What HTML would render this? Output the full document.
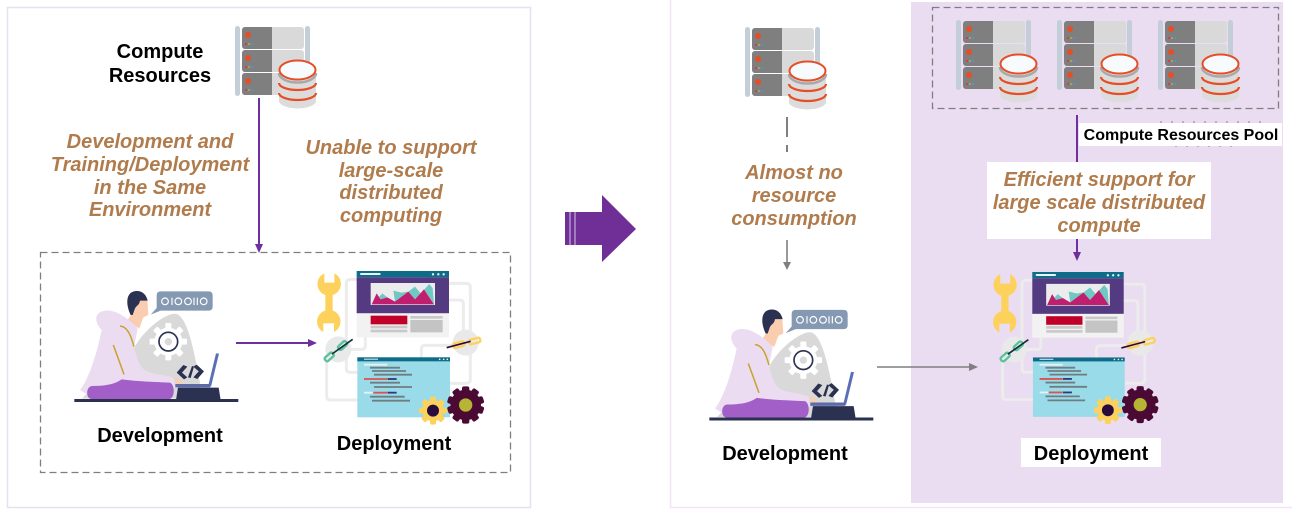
<!DOCTYPE html>
<html><head><meta charset="utf-8"><style>
html,body{margin:0;padding:0;background:#fff;width:1292px;height:517px;overflow:hidden}
svg{display:block}
text{font-family:"Liberation Sans",sans-serif;font-weight:bold;text-anchor:middle}
.o{font-style:italic;font-size:20px;fill:#b07c4d}
.b{font-size:20px;fill:#000}
</style></head><body>
<svg width="1292" height="517" viewBox="0 0 1292 517" xmlns="http://www.w3.org/2000/svg">
<defs>
<g id="srv">
  <rect x="0" y="0" width="5" height="70" rx="2.5" fill="#c3ced8"/>
  <rect x="70" y="0" width="5" height="70" rx="2.5" fill="#c3ced8"/>
  <g id="u1"><rect x="7" y="1" width="62" height="22" rx="3" fill="#d9d9d9"/><path d="M10 1H37V23H10a3 3 0 0 1-3-3V4a3 3 0 0 1 3-3z" fill="#7f7f7f"/><circle cx="13" cy="9" r="3" fill="#e54e26"/><rect x="10" y="17" width="2" height="2" fill="#e0364f"/><rect x="13" y="17" width="2" height="2" fill="#8fb04a"/><rect x="16" y="17" width="2" height="2" fill="#5b8fc9"/></g>
  <use href="#u1" y="23"/><use href="#u1" y="46"/>
  <path d="M44 44v31a18.500 7.500 0 0 0 37 0V44z" fill="#dcdcdc"/>
  <path d="M44 57a18.500 7 0 0 0 37 0M44 67a18.500 7 0 0 0 37 0" fill="none" stroke="#e54e26" stroke-width="2.200"/>
  <path d="M44 47a18.500 9.500 0 0 0 37 0" fill="none" stroke="#a9a9a9" stroke-width="2.500"/>
  <ellipse cx="62.500" cy="44" rx="18" ry="9.500" fill="#f7fbfe" stroke="#e54e26" stroke-width="2"/>
</g>
<g id="person">
  <path d="M66 416L100 380L222 265C250 210 320 155 350 162C385 175 405 280 428 416Z" fill="#d9d9d9"/>
  <g transform="translate(325,245)">
    <circle r="42" fill="#fff"/>
    <g fill="#fff"><rect x="-9" y="-56" width="18" height="112" rx="3"/><rect x="-9" y="-56" width="18" height="112" rx="3" transform="rotate(45)"/><rect x="-9" y="-56" width="18" height="112" rx="3" transform="rotate(90)"/><rect x="-9" y="-56" width="18" height="112" rx="3" transform="rotate(135)"/></g>
    <circle r="28" fill="#fff" stroke="#2b3150" stroke-width="5"/><circle r="11" fill="#d9d9d9"/>
  </g>
  <path d="M350 338L370 315L382 320L366 338L382 352L372 358ZM432 334L412 357L400 352L416 334L400 320L410 314ZM384 352L396 318L402 320L392 354Z" fill="#2b3150"/>
  <path d="M240 118L262 118L265 165L250 172L238 205L200 185L225 145Z" fill="#fbcdb0"/>
  <path d="M212 165C195 130 198 92 232 93C250 93 260 108 263 122L240 122C238 135 232 135 225 145L218 165Z" fill="#2b3150"/>
  <path d="M60 390C90 350 110 280 125 210C105 190 100 160 130 153C165 145 205 175 233 205L222 262C232 300 240 325 262 335C290 345 325 345 342 355L345 385L100 415Z" fill="#ebdcf2"/>
  <path d="M180 198C205 200 215 235 222 260M160 255L192 343" fill="none" stroke="#c8a22e" stroke-width="4.500"/>
  <path d="M95 378C140 378 165 372 185 358C240 365 290 366 330 368C345 375 345 410 330 417H95C78 417 76 382 95 378Z" fill="#a25fc8"/>
  <path d="M342 352L372 366L350 374Z" fill="#fbcdb0"/>
  <rect x="346" y="372" width="105" height="10" fill="#5c6aa8"/>
  <path d="M446 372L468 280L477 281L453 380Z" fill="#5a6fb8"/>
  <path d="M354 383H476L482 420H348Z" fill="#2b3150"/>
  <rect x="43" y="417" width="492" height="9" fill="#2b3150"/>
  <path d="M272 164L290 144V106Q290 94 302 94H446Q458 94 458 106V140Q458 152 446 152H302Z" fill="#8599b3"/>
  <g fill="none" stroke="#fff" stroke-width="3.500">
    <ellipse cx="315" cy="124" rx="10" ry="10"/><line x1="336" y1="113" x2="336" y2="135"/><ellipse cx="355" cy="124" rx="10" ry="10"/><ellipse cx="384" cy="124" rx="10" ry="10"/><line x1="402" y1="113" x2="402" y2="135"/><line x1="412" y1="113" x2="412" y2="135"/><ellipse cx="431" cy="124" rx="10" ry="10"/>
  </g>
</g>
<g id="gearY"><circle r="32" fill="#fdd25c"/><g fill="#fdd25c"><rect x="-9" y="-42" width="18" height="84" rx="5"/><rect x="-9" y="-42" width="18" height="84" rx="5" transform="rotate(45)"/><rect x="-9" y="-42" width="18" height="84" rx="5" transform="rotate(90)"/><rect x="-9" y="-42" width="18" height="84" rx="5" transform="rotate(135)"/></g><circle r="18" fill="#2a0c3c"/></g>
<g id="gearD"><circle r="46" fill="#4a0a33"/><g fill="#4a0a33"><rect x="-11" y="-56" width="22" height="112" rx="6"/><rect x="-11" y="-56" width="22" height="112" rx="6" transform="rotate(36)"/><rect x="-11" y="-56" width="22" height="112" rx="6" transform="rotate(72)"/><rect x="-11" y="-56" width="22" height="112" rx="6" transform="rotate(108)"/><rect x="-11" y="-56" width="22" height="112" rx="6" transform="rotate(144)"/></g><circle r="20" fill="#b7b534"/></g>
<g id="deploy">
  <g fill="none" stroke="#ececec" stroke-width="9" stroke-linejoin="round">
    <path d="M175 58H152Q139 58 139 71V325Q139 337 152 337H175"/>
    <path d="M196 230V256Q196 268 184 268H139"/>
    <path d="M445 70H498Q511 70 511 83V357Q511 370 498 370H450"/>
    <path d="M445 120H478Q490 120 490 132V245"/>
    <path d="M460 256H376Q364 256 364 268V295"/>
    <path d="M95 290H92Q80 290 80 302V408Q80 420 92 420H175"/>
  </g>
  <circle cx="115" cy="268" r="39" fill="#e9e9e9"/>
  <circle cx="497" cy="248" r="39" fill="#e9e9e9"/>
  <path d="M73 40A35 35 0 0 0 76 105V151.500A35 35 0 0 0 70 216V190H102V216A35 35 0 0 0 98 151.500V105A35 35 0 0 0 103 40V68H73Z" fill="#fdd25c"/>
  <rect x="170" y="33" width="277" height="19" fill="#0e6c88"/>
  <rect x="180" y="39" width="62" height="6" rx="3" fill="#e8f3f5"/>
  <circle cx="399" cy="43" r="3.500" fill="#e8f3f5"/><circle cx="415" cy="43" r="3.500" fill="#e8f3f5"/><circle cx="431" cy="43" r="3.500" fill="#e8f3f5"/>
  <rect x="170" y="52" width="277" height="108" fill="#533a81"/>
  <rect x="170" y="160" width="277" height="72" fill="#f2f2f2"/>
  <rect x="212" y="69" width="193" height="66" fill="#ececec"/>
  <path d="M238 110L247 100L262 112L285 125L280 92L305 98L325 95L345 80L362 100L388 72L398 85L402 132L372 88L345 118L325 95L285 125L262 112L242 118Z" fill="#6fc8c3"/>
  <path d="M215 133L230 100L242 118L262 112L285 125L325 95L345 118L372 88L402 133Z" fill="#c01e6e"/>
  <rect x="212" y="167" width="110" height="26" fill="#c00028"/>
  <rect x="212" y="197" width="110" height="8" fill="#c9c9c9"/><rect x="212" y="209" width="110" height="8" fill="#c9c9c9"/>
  <rect x="331" y="168" width="97" height="8" fill="#c9c9c9"/><rect x="331" y="180" width="97" height="37" fill="#c4c4c4"/>
  <g fill="none" stroke="#5dc09a" stroke-width="7"><rect x="72" y="284" width="30" height="14" rx="5" transform="rotate(-42 87 290)"/><rect x="112" y="250" width="30" height="14" rx="5" transform="rotate(-42 127 256)"/></g>
  <line x1="96" y1="282" x2="158" y2="238" stroke="#10303e" stroke-width="5"/>
  <g fill="none" stroke="#fdd25c" stroke-width="7"><rect x="459" y="247" width="34" height="14" rx="5" transform="rotate(-15 476 253)"/><rect x="507" y="236" width="34" height="14" rx="5" transform="rotate(-15 524 243)"/></g>
  <line x1="440" y1="263" x2="512" y2="244" stroke="#2a0c3c" stroke-width="5"/>
  <rect x="172" y="292" width="278" height="180" fill="#9adbea"/>
  <rect x="172" y="292" width="278" height="12" fill="#0e6c88"/>
  <rect x="192" y="296" width="42" height="3" fill="#e8f3f5"/>
  <circle cx="419" cy="298" r="2.500" fill="#e8f3f5"/><circle cx="431" cy="298" r="2.500" fill="#e8f3f5"/><circle cx="442" cy="298" r="2.500" fill="#e8f3f5"/>
  <g stroke-width="5.500" fill="none">
    <path d="M192 314H262" stroke="#e5f2f5"/>
    <path d="M210 323H300M216 333H318M222 344H336M210 368H300M222 381H336M210 410H314M216 422H330" stroke="#6f7d80"/>
    <path d="M192 357H262" stroke="#d9534f"/><path d="M263 357H290" stroke="#2b3a78"/>
    <path d="M192 398H218" stroke="#e5f2f5"/><path d="M220 398H262" stroke="#d9534f"/><path d="M263 398H290" stroke="#2b3a78"/>
  </g>
  <use href="#gearY" x="399" y="452"/>
  <use href="#gearD" x="497" y="435"/>
</g>
</defs>

<!-- panels -->
<rect x="7.500" y="7.500" width="523" height="500" fill="#fff" stroke="#e8dff0" stroke-width="1.500"/>
<path d="M670.500 0V507.500H1292" fill="none" stroke="#f1e4f7" stroke-width="1.500"/>
<rect x="911" y="2" width="372" height="501" fill="#eadcf1"/>

<!-- left -->
<use href="#srv" x="235" y="26"/>
<text class="b" x="160" y="58">Compute</text>
<text class="b" x="160" y="82">Resources</text>
<line x1="259" y1="98" x2="259" y2="245" stroke="#6f2f9f" stroke-width="2"/>
<path d="M255 244H263L259 253Z" fill="#6f2f9f"/>
<text class="o" x="150" y="148">Development and</text>
<text class="o" x="150" y="171">Training/Deployment</text>
<text class="o" x="150" y="194">in the Same</text>
<text class="o" x="150" y="216">Environment</text>
<text class="o" x="391" y="154">Unable to support</text>
<text class="o" x="391" y="177">large-scale</text>
<text class="o" x="391" y="199">distributed</text>
<text class="o" x="391" y="222">computing</text>
<rect x="40.500" y="252.500" width="470" height="220" fill="none" stroke="#7f7f7f" stroke-width="1.300" stroke-dasharray="7 4"/>
<use href="#person" transform="translate(60,260) scale(.33333)"/>
<line x1="236" y1="343" x2="310" y2="343" stroke="#6f2f9f" stroke-width="2"/>
<path d="M308 339L317 343L308 347Z" fill="#6f2f9f"/>
<use href="#deploy" transform="translate(300,260) scale(.33333)"/>
<text class="b" x="160" y="442">Development</text>
<text class="b" x="394" y="450">Deployment</text>

<!-- big arrow -->
<path d="M565 212H602V195L636 229L602 262V245H565Z" fill="#6f2f96"/>
<path d="M570 212V245M575 212V245" stroke="#d9c5e6" stroke-width="1"/>

<!-- middle -->
<use href="#srv" x="745" y="27"/>
<path d="M787 117V152" stroke="#7f7f7f" stroke-width="2" stroke-dasharray="20 8"/>
<text class="o" x="794" y="179">Almost no</text>
<text class="o" x="794" y="202">resource</text>
<text class="o" x="794" y="225">consumption</text>
<line x1="787" y1="240" x2="787" y2="263" stroke="#7f7f7f" stroke-width="1.600"/>
<path d="M783 262H791L787 270Z" fill="#7f7f7f"/>
<use href="#person" transform="translate(695,278.500) scale(.33333)"/>
<text class="b" x="785" y="460">Development</text>
<line x1="877" y1="367" x2="971" y2="367" stroke="#7f7f7f" stroke-width="1.600"/>
<path d="M969 363L978 367L969 371Z" fill="#7f7f7f"/>

<!-- right -->
<rect x="932.500" y="7.500" width="346" height="101" fill="none" stroke="#7f7f7f" stroke-width="1.300" stroke-dasharray="7 4"/>
<use href="#srv" x="956" y="20"/><use href="#srv" x="1057" y="20"/><use href="#srv" x="1158" y="20"/>
<line x1="1077" y1="115" x2="1077" y2="255" stroke="#6f2f9f" stroke-width="2"/>
<path d="M1073 252H1081L1077 261Z" fill="#6f2f96"/>
<path d="M1160 122H1270M1175 146H1240" stroke="#8a7f90" stroke-width="1" stroke-dasharray="2 9"/>
<rect x="1079" y="123" width="203" height="23" fill="#fff"/>
<text x="1181" y="140" style="font-size:16px" fill="#000">Compute Resources Pool</text>
<rect x="987" y="162" width="224" height="77" fill="#fff"/>
<text class="o" x="1099" y="186">Efficient support for</text>
<text class="o" x="1099" y="209">large scale distributed</text>
<text class="o" x="1099" y="232">compute</text>
<use href="#deploy" transform="translate(976.200,261.100) scale(.33)"/>
<rect x="1021" y="438" width="140" height="29" fill="#fff"/>
<text class="b" x="1091" y="460">Deployment</text>
</svg>
</body></html>
